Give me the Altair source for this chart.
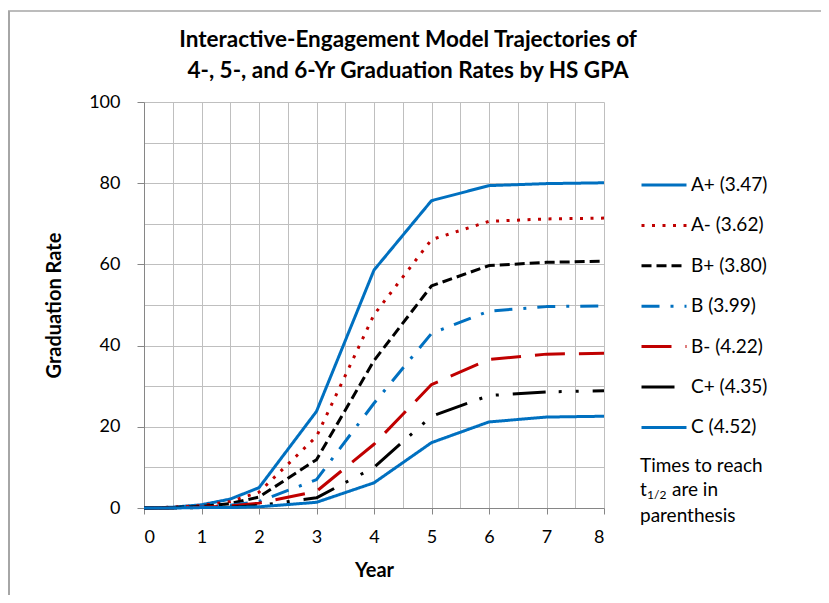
import altair as alt
import pandas as pd

# ---- data ----
years = [0, 0.5, 1, 1.5, 2, 3, 4, 5, 6, 7, 8]
series_names = ["A+ (3.47)", "A- (3.62)", "B+ (3.80)", "B (3.99)", "B- (4.22)", "C+ (4.35)", "C (4.52)"]
a_plus = [0, 0.2, 0.8, 2.2, 5.0, 23.8, 58.6, 75.7, 79.4, 79.9, 80.1]
a_minus = [0, 0.2, 0.6, 1.6, 3.9, 17.6, 47.6, 66.1, 70.6, 71.2, 71.4]
b_plus = [0, 0.1, 0.4, 1.1, 2.7, 11.9, 36.3, 54.7, 59.7, 60.5, 60.8]
b_mid = [0, 0.1, 0.2, 0.7, 1.6, 7.0, 25.8, 43.0, 48.5, 49.6, 49.8]
b_minus = [0, 0.0, 0.2, 0.5, 1.2, 4.1, 15.7, 30.4, 36.6, 37.9, 38.1]
c_plus = [0, 0.0, 0.1, 0.2, 0.6, 2.5, 10.0, 22.6, 27.7, 28.6, 28.9]
c_low = [0, 0.0, 0.1, 0.1, 0.3, 1.4, 6.2, 16.1, 21.2, 22.4, 22.6]
all_values = [a_plus, a_minus, b_plus, b_mid, b_minus, c_plus, c_low]

colors = ["#0070C0", "#C00000", "#000000", "#0070C0", "#C00000", "#000000", "#0070C0"]
dashes = [[1, 0], [3, 7.5], [10, 5], [18, 11, 3, 11], [30, 14],
          [33, 13, 3, 14, 3, 14], [1, 0]]

title_lines = ["Interactive-Engagement Model Trajectories of",
               "4-, 5-, and 6-Yr Graduation Rates by HS GPA"]
note_line1 = "Times to reach"
note_t = "t"
note_sub = "1/2"
note_rest = "are in"
note_line3 = "parenthesis"

rows = []
for name, vals in zip(series_names, all_values):
    for yr, v in zip(years, vals):
        rows.append({"Year": yr, "Rate": v, "Series": name})
df = pd.DataFrame(rows)

W, H = 460, 406
FONT = "Lato"

x_vals = [i * 0.5 for i in range(17)]
y_vals = list(range(0, 101, 10))

lines = alt.Chart(df).mark_line(strokeWidth=3, strokeCap="butt", strokeJoin="round").encode(
    x=alt.X("Year:Q",
            scale=alt.Scale(domain=[0, 8], nice=False),
            axis=alt.Axis(values=x_vals, title="Year",
                          labelExpr="datum.value % 1 === 0 ? format(datum.value, 'd') : ''",
                          tickOpacity={"condition": {"test": "datum.value % 1 === 0", "value": 1}, "value": 0},
                          tickSize=6, labelPadding=14, labelFontSize=18, labelFont=FONT,
                          labelColor="#000000", titleFont=FONT, titleFontSize=20,
                          titleFontWeight="bold", titleColor="#000000",
                          titleX=W / 2, titleY=62, titleBaseline="middle",
                          grid=True, gridColor="#BFBFBF", domainColor="#868686",
                          tickColor="#868686")),
    y=alt.Y("Rate:Q",
            scale=alt.Scale(domain=[0, 100], nice=False),
            axis=alt.Axis(values=y_vals, title="Graduation Rate",
                          labelExpr="datum.value % 20 === 0 ? format(datum.value, 'd') : ''",
                          tickOpacity={"condition": {"test": "datum.value % 20 === 0", "value": 1}, "value": 0},
                          tickSize=7, labelPadding=17, labelFontSize=18, labelFont=FONT,
                          labelColor="#000000", titleFont=FONT, titleFontSize=20,
                          titleFontWeight="bold", titleColor="#000000",
                          titleX=-90, titleY=H / 2, titleAngle=270,
                          titleAlign="center", titleBaseline="middle",
                          grid=True, gridColor="#BFBFBF", domainColor="#868686",
                          tickColor="#868686")),
    color=alt.Color("Series:N",
                    scale=alt.Scale(domain=series_names, range=colors),
                    sort=series_names,
                    legend=alt.Legend(title=None, orient="none", legendX=496, legendY=59,
                                      symbolType="stroke", symbolSize=2025,
                                      symbolStrokeWidth=3, labelFontSize=19,
                                      labelFont=FONT, labelColor="#000000",
                                      rowPadding=6.4, labelOffset=3)),
    strokeDash=alt.StrokeDash("Series:N",
                              scale=alt.Scale(domain=series_names, range=dashes),
                              sort=series_names),
)

note_df = pd.DataFrame({"t1": [note_line1], "t3": [note_line3], "t": [note_t],
                        "s": [note_sub], "r": [note_rest],
                        "h1": [title_lines[0]], "h2": [title_lines[1]]})
base_note = alt.Chart(note_df)
txt_kw = dict(align="left", baseline="middle", font=FONT, fontSize=19, color="#000000")
n1 = base_note.mark_text(**txt_kw).encode(text="t1:N", x=alt.value(496), y=alt.value(364))
n2 = base_note.mark_text(**txt_kw).encode(text="t:N", x=alt.value(496), y=alt.value(388))
n2s = base_note.mark_text(align="left", baseline="middle", font=FONT, fontSize=12,
                          color="#000000").encode(text="s:N", x=alt.value(503), y=alt.value(393))
n2r = base_note.mark_text(**txt_kw).encode(text="r:N", x=alt.value(528), y=alt.value(388))
n3 = base_note.mark_text(**txt_kw).encode(text="t3:N", x=alt.value(496), y=alt.value(414))

ttl_kw = dict(align="center", baseline="middle", font=FONT, fontSize=22.5,
              fontWeight="bold", color="#000000")
t1 = base_note.mark_text(**ttl_kw).encode(text="h1:N", x=alt.value(264), y=alt.value(-62))
t2 = base_note.mark_text(**ttl_kw).encode(text="h2:N", x=alt.value(264), y=alt.value(-31))

border_left = base_note.mark_rule(color="#A6A6A6", strokeWidth=2).encode(
    x=alt.value(-135), y=alt.value(-91), y2=alt.value(H + 100))
border_top = base_note.mark_rule(color="#A6A6A6", strokeWidth=1.5).encode(
    x=alt.value(-136), x2=alt.value(W + 240), y=alt.value(-91))

chart = alt.layer(border_left, border_top, lines, n1, n2, n2s, n2r, n3, t1, t2).properties(
    width=W, height=H,
    autosize=alt.AutoSizeParams(type="none"),
    padding={"left": 136, "top": 94, "right": 217, "bottom": 87},
).configure_view(stroke=None)

chart.save("out.html", embed_options={"renderer": "svg", "actions": False})
